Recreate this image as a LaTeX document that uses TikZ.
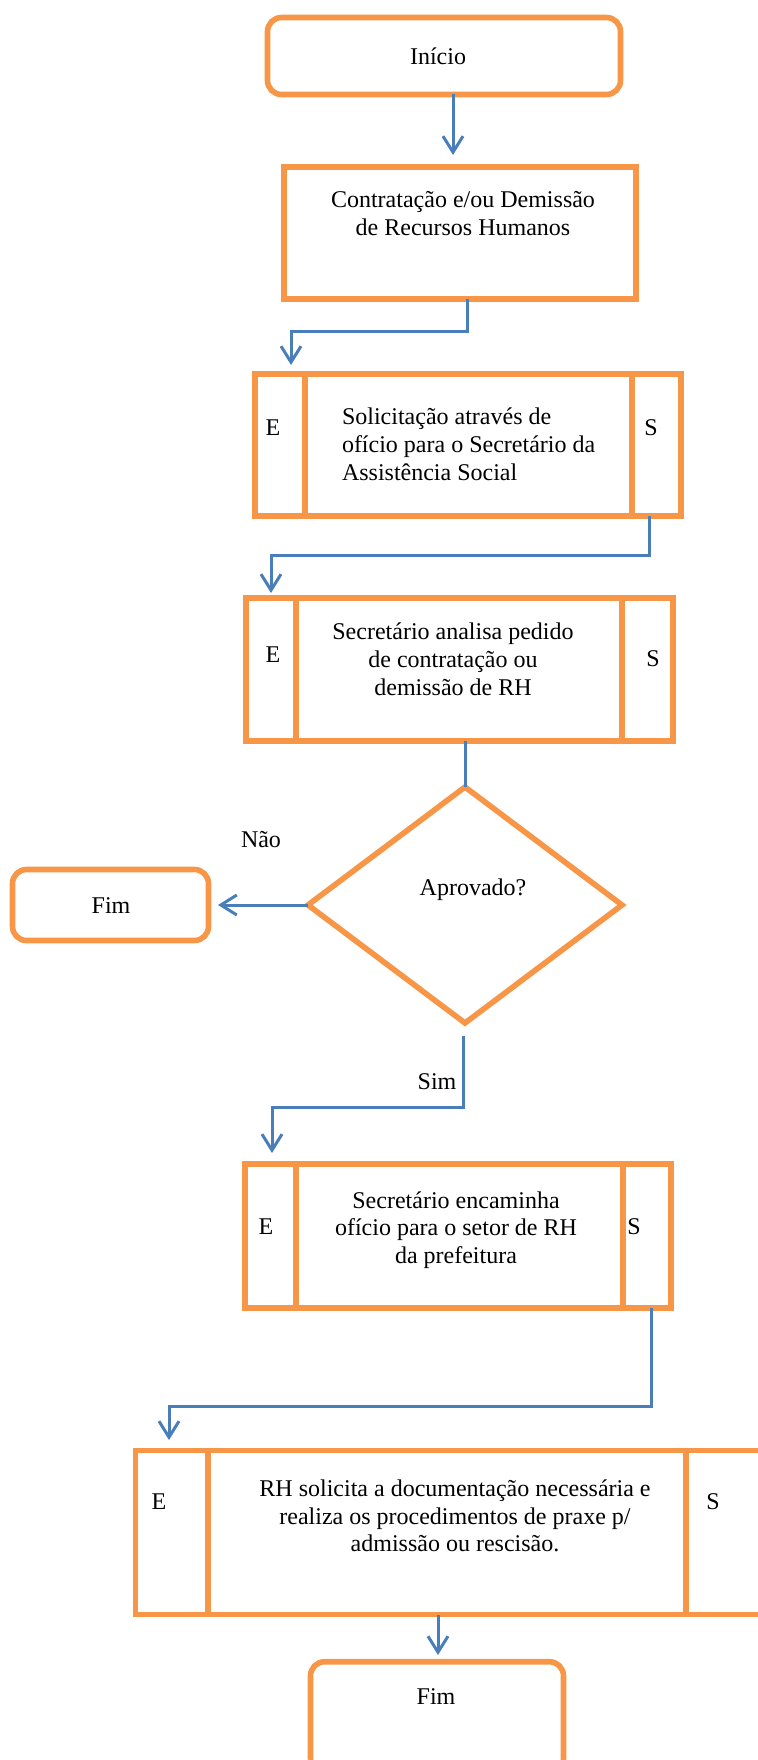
\documentclass[tikz,border=0pt]{standalone}
\usepackage{fontspec}
\setmainfont{Liberation Serif}
\usetikzlibrary{arrows.meta,shapes.geometric}
\definecolor{boxorange}{HTML}{F79646}
\definecolor{linkblue}{HTML}{4A7EBB}
\begin{document}
\begin{tikzpicture}[x=0.5pt,y=-0.5pt,
  every node/.style={inner sep=0pt,outer sep=0pt},
  txt/.style={font=\fontsize{12}{13.9}\selectfont,align=center},
  frame/.style={draw=boxorange,line width=2.8pt},
  procbox/.style={frame,rectangle},
  termbox/.style={frame,rectangle,rounded corners=7pt},
  decbox/.style={frame,diamond},
  link/.style={draw=linkblue,line width=1.5pt},
  conn/.style={link,-{Straight Barb[length=8pt,width=10pt]}},
]
\useasboundingbox (0,0) rectangle (758,1760);
\clip (0,0) rectangle (758,1760);

% ---- start
\node[termbox,minimum width=176.5pt,minimum height=38.5pt] (start) at (444,56) {};
\node[txt] (startT) at (438,56) {Início};

% ---- hiring / dismissal
\node[procbox,minimum width=176pt,minimum height=66pt] (proc1) at (460,233) {};
\node[txt] (proc1T) at (463,213.5) {Contratação e/ou Demissão\\de Recursos Humanos};

% ---- request letter
\node[procbox,minimum width=213pt,minimum height=71pt] (proc2) at (468,445) {};
\coordinate (d2a) at (305,0);
\coordinate (d2b) at (632,0);
\draw[frame] (proc2.north -| d2a) -- (proc2.south -| d2a);
\draw[frame] (proc2.north -| d2b) -- (proc2.south -| d2b);
\node[txt,align=left,anchor=west] (proc2T) at (342,444.5) {Solicitação através de\\ofício para o Secretário da\\Assistência Social};
\node[txt] (proc2E) at (273,428) {E};
\node[txt] (proc2S) at (651,428) {S};

% ---- secretary analyses
\node[procbox,minimum width=213.5pt,minimum height=71.5pt] (proc3) at (459.5,669.5) {};
\coordinate (d3a) at (296,0);
\coordinate (d3b) at (622,0);
\draw[frame] (proc3.north -| d3a) -- (proc3.south -| d3a);
\draw[frame] (proc3.north -| d3b) -- (proc3.south -| d3b);
\node[txt] (proc3T) at (453,659.5) {Secretário analisa pedido\\de contratação ou\\demissão de RH};
\node[txt] (proc3E) at (273,655) {E};
\node[txt] (proc3S) at (653,659) {S};

% ---- decision
\node[decbox,minimum width=157pt,minimum height=118pt] (decision) at (465,905) {};
\node[txt] (decisionT) at (473,890) {Aprovado?};

% ---- rejected end
\node[termbox,minimum width=98pt,minimum height=35.5pt] (fim1) at (110.5,905) {};
\node[txt] (fim1T) at (111,906) {Fim};

% ---- forward letter to HR
\node[procbox,minimum width=213pt,minimum height=72pt] (proc4) at (458,1236) {};
\coordinate (d4a) at (296,0);
\coordinate (d4b) at (623,0);
\draw[frame] (proc4.north -| d4a) -- (proc4.south -| d4a);
\draw[frame] (proc4.north -| d4b) -- (proc4.south -| d4b);
\node[txt] (proc4T) at (456,1230) {Secretário encaminha\\ofício para o setor de RH\\da prefeitura};
\node[txt] (proc4E) at (266,1227) {E};
\node[txt] (proc4S) at (634,1227) {S};

% ---- HR procedures
\node[procbox,minimum width=318.5pt,minimum height=82pt] (proc5) at (454,1532.5) {};
\coordinate (d5a) at (208,0);
\coordinate (d5b) at (686,0);
\draw[frame] (proc5.north -| d5a) -- (proc5.south -| d5a);
\draw[frame] (proc5.north -| d5b) -- (proc5.south -| d5b);
\node[txt] (proc5T) at (455,1516) {RH solicita a documentação necessária e\\realiza os procedimentos de praxe p/\\admissão ou rescisão.};
\node[txt] (proc5E) at (159,1502) {E};
\node[txt] (proc5S) at (713,1502) {S};

% ---- final end
\node[termbox,minimum width=126.5pt,minimum height=55.25pt] (fim2) at (437,1717) {};
\node[txt] (fim2T) at (436,1697) {Fim};

% ---- branch labels
\node[txt] (nao) at (261,840) {Não};
\node[txt] (sim) at (437,1082) {Sim};

% ---- connectors
\coordinate (a1) at (453,155);
\draw[conn] (start.south -| a1) -- (a1);

\coordinate (k2) at (467,331);
\coordinate (a2) at (291,365);
\draw[conn] (proc1.south -| k2) -- (k2) -- (k2 -| a2) -- (a2);

\coordinate (k3) at (649,555);
\coordinate (a3) at (271,593);
\draw[conn] (proc2.south -| k3) -- (k3) -- (k3 -| a3) -- (a3);

\draw[link] (proc3.south -| decision.north) -- (decision.north);

\coordinate (a5) at (218,905);
\draw[conn] (decision.west) -- (a5);

\coordinate (s6) at (463,1036);
\coordinate (k6) at (463,1107);
\coordinate (a6) at (272,1153);
\draw[conn] (s6) -- (k6) -- (k6 -| a6) -- (a6);

\coordinate (k7) at (651,1406);
\coordinate (a7) at (169,1440);
\draw[conn] (proc4.south -| k7) -- (k7) -- (k7 -| a7) -- (a7);

\coordinate (a8) at (438,1655);
\draw[conn] (proc5.south -| a8) -- (a8);
\end{tikzpicture}
\end{document}
